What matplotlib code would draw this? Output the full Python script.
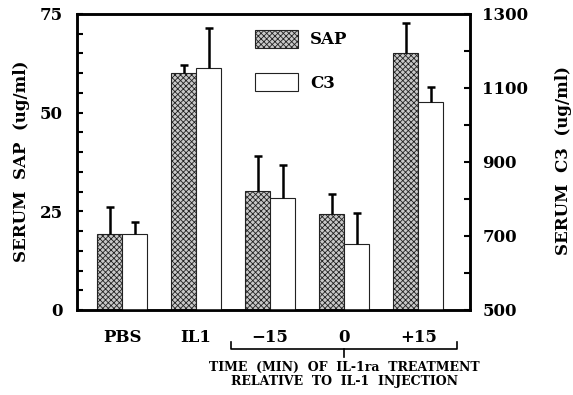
import matplotlib
matplotlib.use("Agg")
import matplotlib.pyplot as plt
import numpy as np
from matplotlib.patches import Patch
from matplotlib.ticker import MultipleLocator

categories = ["PBS", "IL1", "\u221215", "0", "+15"]
sap = [19.3, 60.0, 30.2, 24.3, 65.1]
sap_err = [6.8, 2.1, 8.9, 5.1, 7.6]
c3 = [705, 1154, 803, 678, 1062]
c3_err = [33, 108, 89, 84, 41]
left_ticks = [0, 25, 50, 75]
right_ticks = [500, 700, 900, 1100, 1300]

plt.rcParams['font.family'] = ['DejaVu Serif']
plt.rcParams['font.weight'] = 'bold'
plt.rcParams['hatch.linewidth'] = 0.6
plt.rcParams['hatch.color'] = '#3a3a3a'

fig = plt.figure(figsize=(5.73, 3.95), dpi=100)
W, H = 573, 395
ax = fig.add_axes([77 / W, 1 - 310 / H, 393 / W, 296 / H])
ax2 = ax.twinx()

x = np.arange(len(categories))
w = 0.34


def up_errorbar(a, xs, ys, errs):
    res = a.errorbar(xs, ys, yerr=[np.zeros(len(ys)), errs], fmt='none',
                     ecolor='black', elinewidth=1.8, capsize=3, capthick=1.8,
                     zorder=3)
    caps = res[1]
    if len(caps) > 0:
        caps[0].set_visible(False)


ax.bar(x - w / 2, sap, width=w, color='#c8c8c8', edgecolor='#222222',
       linewidth=0.8, hatch='xxxxxx', zorder=2)
up_errorbar(ax, x - w / 2, sap, sap_err)

c3_arr = np.array(c3)
ax2.bar(x + w / 2, c3_arr - 500, bottom=500, width=w, color='white',
        edgecolor='#222222', linewidth=0.8, zorder=2)
up_errorbar(ax2, x + w / 2, c3, c3_err)

ax.set_xlim(-0.61, 4.70)
ax.set_ylim(0, 75)
ax2.set_ylim(500, 1300)

ax.set_yticks(left_ticks)
ax.set_yticklabels([str(t) for t in left_ticks], fontsize=12, fontweight='bold')
ax.yaxis.set_minor_locator(MultipleLocator(5))
ax2.set_yticks(right_ticks)
ax2.set_yticklabels([str(t) for t in right_ticks], fontsize=12, fontweight='bold')
ax2.yaxis.set_minor_locator(MultipleLocator(100))

ax.tick_params(axis='y', which='both', direction='in', length=4, width=1.5, pad=10)
ax2.tick_params(axis='y', which='both', direction='in', length=4, width=1.5, pad=9)
ax.set_xticks(x)
ax.set_xticklabels(categories, fontsize=12, fontweight='bold')
ax.tick_params(axis='x', length=0, pad=14)

for a in (ax, ax2):
    for s in a.spines.values():
        s.set_linewidth(1.8)

fig.text(22 / W, 1 - 161 / H, "SERUM  SAP  (ug/ml)", rotation=90, ha='center',
         va='center', fontsize=12, fontweight='bold')
fig.text(563 / W, 1 - 161 / H, "SERUM  C3  (ug/ml)", rotation=90, ha='center',
         va='center', fontsize=12, fontweight='bold')

# legend
handles = [Patch(facecolor='#c8c8c8', edgecolor='#222222', hatch='xxxxxx', linewidth=0.8),
           Patch(facecolor='white', edgecolor='#222222', linewidth=0.8)]
ax.legend(handles, ["SAP", "C3"], loc='upper left',
          bbox_to_anchor=((255 - 77) / 393, (310 - 30) / 296), frameon=False,
          handlelength=2.6, handleheight=1.25, labelspacing=1.5,
          handletextpad=0.7, borderpad=0, borderaxespad=0,
          prop={'weight': 'bold', 'size': 12})

# bracket for IL-1ra group
trans = ax.get_xaxis_transform()
yb = -(349 - 310) / 296
yt = -(342 - 310) / 296
yd = -(357 - 310) / 296
xl, xr, xc = x[2] - 0.53, x[4] + 0.53, x[3]
ax.plot([xl, xl, xr, xr], [yt, yb, yb, yt], transform=trans, color='black',
        lw=1.2, clip_on=False)
ax.plot([xc, xc], [yb, yd], transform=trans, color='black', lw=1.2, clip_on=False)
ax.text(xc, -(367 - 310) / 296, "TIME  (MIN)  OF  IL-1ra  TREATMENT", transform=trans,
        ha='center', va='center', fontsize=9, fontweight='bold')
ax.text(xc, -(381 - 310) / 296, "RELATIVE  TO  IL-1  INJECTION", transform=trans,
        ha='center', va='center', fontsize=9, fontweight='bold')

fig.savefig("out.png", dpi=100)
